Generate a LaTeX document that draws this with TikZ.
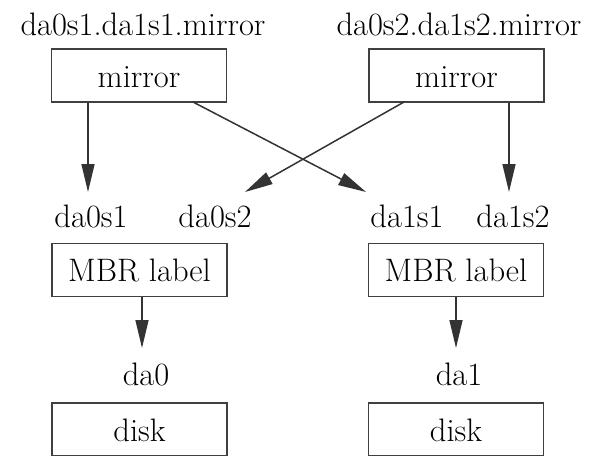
\documentclass[tikz,border=0pt]{standalone}
\usetikzlibrary{arrows.meta}
\begin{document}
\begin{tikzpicture}[x=1pt,y=-1pt,
  box/.style={draw=black!75, line width=1.6pt, rectangle, minimum width=175pt, minimum height=53pt, inner sep=0pt, text height=23pt, text depth=0pt, font=\rmfamily\fontsize{32.5}{40}\selectfont},
  lbl/.style={anchor=base, inner sep=0pt, font=\rmfamily\fontsize{32.5}{40}\selectfont},
  arr/.style={draw=black!80, line width=1.5pt, -{Triangle[length=28pt,width=13pt]}}]
\useasboundingbox (0,0) rectangle (602,455);
\clip (0,0) rectangle (602,455);
% top labels and mirror boxes
\node[lbl] (l1) at (143,35) {da0s1.da1s1.mirror};
\node[lbl] (l2) at (459,35) {da0s2.da1s2.mirror};
\node[box] (m1) at (139,75.5) {mirror};
\node[box] (m2) at (456.5,75.5) {mirror};
% partition labels
\node[lbl] (p1) at (91,227) {da0s1};
\node[lbl] (p2) at (215,227) {da0s2};
\node[lbl] (p3) at (407,227) {da1s1};
\node[lbl] (p4) at (513,227) {da1s2};
% MBR boxes
\node[box] (b1) at (139.5,270) {MBR label};
\node[box] (b2) at (456,270) {MBR label};
% disk labels and boxes
\node[lbl] (d0) at (146,385) {da0};
\node[lbl] (d1) at (459,385) {da1};
\node[box] (k1) at (139.5,429.5) {disk};
\node[box] (k2) at (456,429.5) {disk};
% arrow end points
\coordinate (t1) at (88,192);
\coordinate (t2) at (245,192);
\coordinate (t3) at (366,192);
\coordinate (t4) at (509,192);
\coordinate (s1) at (193,102);
\coordinate (s2) at (404,102);
\coordinate (u1) at (142,348);
\coordinate (u2) at (456,348);
% arrows
\draw[arr] (m1.south -| t1) -- (t1);
\draw[arr] (m2.south -| t4) -- (t4);
\draw[arr] (s1) -- (t3);
\draw[arr] (s2) -- (t2);
\draw[arr] (b1.south -| u1) -- (u1);
\draw[arr] (b2.south -| u2) -- (u2);
\end{tikzpicture}
\end{document}
